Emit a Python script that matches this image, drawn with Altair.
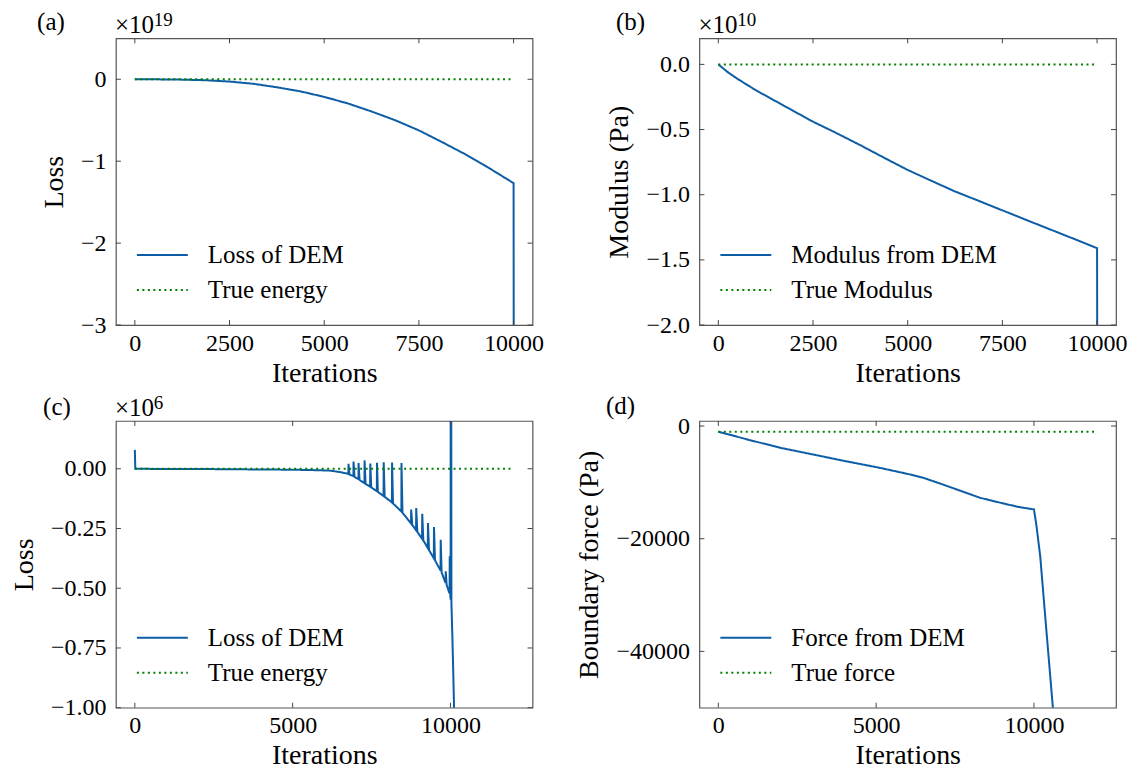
import altair as alt
import pandas as pd

FONT = "Liberation Serif"
BLUE = "#0C5DA5"
GREEN = "#008000"
W, H = 417, 287
TICK = 5

# ---------------- data ----------------
# (a) Loss of DEM (units of 1e19)
a_iter = [0, 625, 1208, 1875, 2500, 3125, 3755, 4375, 5000, 5625, 6255, 6875,
          7509, 8125, 8755, 9375, 10000, 10008]
a_loss = [0.0, -0.001, -0.004, -0.012, -0.028, -0.055, -0.098, -0.148, -0.215,
          -0.295, -0.394, -0.50, -0.626, -0.77, -0.923, -1.09, -1.268, -6.0]
a_true_iter = [0, 10000]
a_true = [0.0, 0.0]

# (b) Modulus from DEM (units of 1e10 Pa)
b_iter = [0, 250, 500, 1000, 1500, 2000, 2500, 3000, 3750, 4400, 5000, 5600,
          6250, 6900, 7500, 8100, 8750, 9400, 10000, 10008]
b_mod = [0.0, -0.06, -0.11, -0.20, -0.28, -0.36, -0.44, -0.51, -0.62, -0.72,
         -0.81, -0.89, -0.975, -1.05, -1.12, -1.19, -1.265, -1.34, -1.41, -3.0]
b_true_iter = [0, 10000]
b_true = [0.0, 0.0]

# (c) Loss of DEM (units of 1e6)
c_iter = [0, 15, 1000, 2000, 3000, 4000, 5000, 5800, 6200, 6500,
          6765, 6770, 6800, 6925, 6929, 6960, 7085, 7088, 7120,
          7275, 7279, 7310, 7455, 7460, 7490, 7668, 7672, 7700,
          7880, 7885, 7915, 8145, 8150, 8180, 8445, 8448, 8480, 8650,
          8750, 8755, 8790, 8910, 8915, 8950, 9100, 9106, 9140,
          9282, 9287, 9320, 9473, 9478, 9510, 9686, 9691, 9720,
          9845, 9850, 9880, 9972, 9977, 9995,
          10005, 10010, 10030, 10060, 10090, 10130]
c_loss = [0.079, 0.0, -0.001, -0.001, -0.002, -0.003, -0.004, -0.006, -0.008, -0.014,
          -0.021, 0.021, -0.024, -0.031, 0.030, -0.034, -0.043, 0.024, -0.047,
          -0.060, 0.035, -0.063, -0.075, 0.022, -0.078, -0.094, 0.025, -0.097,
          -0.114, 0.027, -0.117, -0.141, 0.026, -0.145, -0.179, 0.024, -0.184, -0.212,
          -0.229, -0.171, -0.235, -0.257, -0.164, -0.264, -0.293, -0.188, -0.300,
          -0.332, -0.227, -0.340, -0.375, -0.244, -0.383, -0.426, -0.297, -0.434,
          -0.478, -0.429, -0.487, -0.522, -0.366, -0.530,
          -0.548, 3.0, -0.56, -0.70, -0.86, -1.10]
c_true_iter = [0, 12000]
c_true = [0.0, 0.0]

# (d) Boundary force from DEM (Pa)
d_iter = [0, 1000, 2000, 3000, 4000, 5100, 6000, 6500, 7000, 7500, 8000, 8300,
          9000, 9500, 10000, 10080, 10200, 10400, 10600, 10700]
d_force = [-1000, -2500, -3900, -5050, -6200, -7400, -8500, -9200, -10150, -11150,
           -12150, -12750, -13700, -14350, -14800, -17700, -23200, -36700, -50000, -57000]
d_true_iter = [0, 12000]
d_true = [-1000, -1000]

# axis ticks / labels
ab_xticks = [0, 2500, 5000, 7500, 10000]
cd_xticks = [0, 5000, 10000]
a_yticks = [0, -1, -2, -3]
b_yticks = [0.0, -0.5, -1.0, -1.5, -2.0]
c_yticks = [0.0, -0.25, -0.5, -0.75, -1.0]
d_yticks = [0, -20000, -40000]

letters = ["(a)", "(b)", "(c)", "(d)"]
exponents = ["19", "10", "6", ""]


def panel(xs, ys, txs, tys, dem_label, true_label, xdom, ydom, xticks, yticks,
          yfmt, ytitle, letter, letter_dx, letter_y, exponent):
    dom = [dem_label, true_label]
    X = alt.X("x:Q", scale=alt.Scale(domain=xdom, nice=False, zero=False),
              axis=alt.Axis(values=xticks, format="d", title="Iterations",
                            labelPadding=6, titlePadding=4))
    Y = alt.Y("y:Q", scale=alt.Scale(domain=ydom, nice=False, zero=False),
              axis=alt.Axis(values=yticks, format=yfmt, title=ytitle,
                            labelPadding=10, titlePadding=12))
    leg = alt.Legend(title=None, orient="none", legendX=20, legendY=204,
                     symbolType="stroke")
    C = alt.Color("s:N", scale=alt.Scale(domain=dom, range=[BLUE, GREEN]), legend=leg)
    D = alt.StrokeDash("s:N", scale=alt.Scale(domain=dom, range=[[1, 0], [2, 3.5]]),
                       legend=leg)
    dem = pd.DataFrame({"x": xs, "y": ys, "s": dem_label, "i": list(range(len(xs)))})
    tru = pd.DataFrame({"x": txs, "y": tys, "s": true_label, "i": list(range(len(txs)))})
    l1 = alt.Chart(dem).mark_line(clip=True, strokeWidth=2).encode(
        x=X, y=Y, color=C, strokeDash=D, order="i:Q")
    l2 = alt.Chart(tru).mark_line(clip=True, strokeWidth=2, strokeCap="butt").encode(
        x=X, y=Y, color=C, strokeDash=D, order="i:Q")

    xt = pd.DataFrame({"x": xticks})
    yt = pd.DataFrame({"y": yticks})
    rk = dict(color="#444", strokeWidth=1)
    tb = alt.Chart(xt).mark_rule(**rk).encode(x=X, y=alt.value(H), y2=alt.value(H - TICK))
    tt = alt.Chart(xt).mark_rule(**rk).encode(x=X, y=alt.value(0), y2=alt.value(TICK))
    tl = alt.Chart(yt).mark_rule(**rk).encode(y=Y, x=alt.value(0), x2=alt.value(TICK))
    tr = alt.Chart(yt).mark_rule(**rk).encode(y=Y, x=alt.value(W), x2=alt.value(W - TICK))

    layers = [l1, l2, tb, tt, tl, tr]
    lab = alt.Chart(pd.DataFrame({"t": [letter]})).mark_text(
        font=FONT, fontSize=25, align="center", baseline="alphabetic", color="black"
    ).encode(x=alt.value(letter_dx), y=alt.value(letter_y), text="t:N")
    layers.append(lab)
    if exponent:
        base = alt.Chart(pd.DataFrame({"t": ["\u00d710"]})).mark_text(
            font=FONT, fontSize=25, align="left", baseline="alphabetic", color="black"
        ).encode(x=alt.value(-1), y=alt.value(-5), text="t:N")
        sup = alt.Chart(pd.DataFrame({"t": [exponent]})).mark_text(
            font=FONT, fontSize=19, align="left", baseline="alphabetic", color="black"
        ).encode(x=alt.value(38), y=alt.value(-12), text="t:N")
        layers += [base, sup]
    return alt.layer(*layers).properties(width=W, height=H)


pa = panel(a_iter, a_loss, a_true_iter, a_true, "Loss of DEM", "True energy",
           [-500, 10500], [-3, 0.5], ab_xticks, a_yticks, "d", "Loss",
           letters[0], -65, -8, exponents[0])
pb = panel(b_iter, b_mod, b_true_iter, b_true, "Modulus from DEM", "True Modulus",
           [-500, 10500], [-2, 0.2], ab_xticks, b_yticks, ".1f", "Modulus (Pa)",
           letters[1], -69, -8, exponents[1])
pc = panel(c_iter, c_loss, c_true_iter, c_true, "Loss of DEM", "True energy",
           [-600, 12600], [-1, 0.2], cd_xticks, c_yticks, ".2f", "Loss",
           letters[2], -59, -6, exponents[2])
pd_ = panel(d_iter, d_force, d_true_iter, d_true, "Force from DEM", "True force",
            [-600, 12600], [-50000, 900], cd_xticks, d_yticks, "d", "Boundary force (Pa)",
            letters[3], -79, -7, exponents[3])

chart = alt.concat(pa, pb, pc, pd_, columns=2, bounds="flush",
                   spacing={"row": 96, "column": 167}).resolve_scale(
    x="independent", y="independent", color="independent", strokeDash="independent"
).resolve_legend(color="independent", strokeDash="independent").properties(
    padding={"left": 9, "top": 9, "right": 6, "bottom": 5},
    background="white"
).configure_view(stroke="#555", strokeWidth=1.2).configure_axis(
    labelFont=FONT, titleFont=FONT, labelFontSize=24, titleFontSize=28,
    titleFontWeight="normal", labelColor="black", titleColor="black",
    grid=False, ticks=False, domain=False
).configure_legend(
    labelFont=FONT, labelFontSize=25, labelColor="black", symbolSize=2601,
    symbolStrokeWidth=2, labelOffset=19, rowPadding=9, clipHeight=26,
    labelLimit=400
)

chart.save("out.html", embed_options={"renderer": "svg", "actions": False})
